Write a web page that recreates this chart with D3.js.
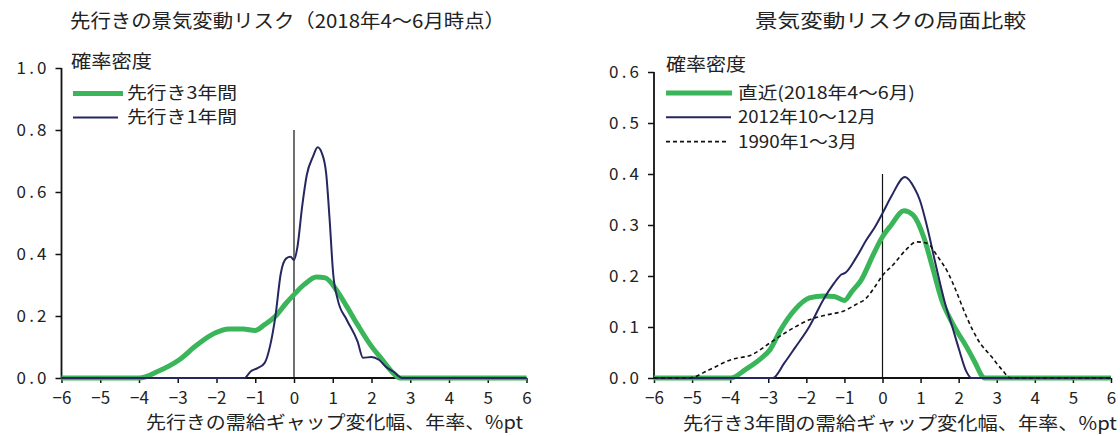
<!DOCTYPE html>
<html><head><meta charset="utf-8">
<script src="https://cdn.jsdelivr.net/npm/d3@7"></script>
<style>
html,body{margin:0;padding:0;background:#fff;}
text{font-family:"Noto Sans CJK JP","Noto Sans",sans-serif;fill:#222;}
</style></head>
<body><svg id="c" width="1120" height="436"></svg>
<script>
// ---- data ----
const xTicks = [-6,-5,-4,-3,-2,-1,0,1,2,3,4,5,6];
const yTicksLeft = [0,0.2,0.4,0.6,0.8,1.0];
const yTicksRight = [0,0.1,0.2,0.3,0.4,0.5,0.6];

// left chart: 先行き3年間
const left3yX = [-6,-4,-3.52,-2.96,-2.5,-2.04,-1.68,-1.31,-1.01,-0.76,-0.48,-0.2,0,0.26,0.58,0.81,1.09,1.36,1.64,2.0,2.28,2.56,2.74,6];
const left3yY = [0,0,0.021,0.059,0.107,0.145,0.158,0.158,0.153,0.172,0.199,0.242,0.269,0.301,0.326,0.323,0.285,0.231,0.172,0.102,0.059,0.016,0,0];
// left chart: 先行き1年間
const left1yX = [-6,-1.28,-1.12,-0.94,-0.76,-0.62,-0.48,-0.34,-0.2,-0.09,0,0.09,0.21,0.33,0.49,0.61,0.72,0.83,0.92,1.01,1.13,1.36,1.64,1.78,2.0,2.19,2.38,2.56,2.79,6];
const left1yY = [0,0,0.021,0.032,0.048,0.102,0.199,0.338,0.386,0.391,0.381,0.424,0.553,0.655,0.714,0.744,0.725,0.66,0.51,0.338,0.252,0.188,0.118,0.065,0.068,0.059,0.035,0.021,0,0];

// right chart: 直近(2018年4～6月)
const recentX = [-6,-3.98,-3.61,-3.23,-2.95,-2.67,-2.3,-1.92,-1.55,-1.27,-1.0,-0.8,-0.56,-0.23,0,0.23,0.56,0.8,1.08,1.31,1.55,1.83,2.2,2.44,2.62,2.67,6];
const recentY = [0,0,0.016,0.036,0.056,0.095,0.134,0.157,0.161,0.16,0.152,0.17,0.192,0.244,0.277,0.30,0.328,0.32,0.277,0.218,0.154,0.108,0.062,0.029,0.003,0,0];
// right chart: 2012年10～12月
const y2012X = [-6,-2.88,-2.58,-2.3,-1.92,-1.55,-1.27,-1.08,-0.98,-0.7,-0.42,-0.19,0,0.23,0.59,0.84,0.98,1.17,1.41,1.64,1.83,2.01,2.2,2.34,6];
const y2012Y = [0,0,0.029,0.059,0.101,0.154,0.186,0.203,0.206,0.235,0.271,0.297,0.323,0.356,0.394,0.372,0.349,0.297,0.218,0.147,0.101,0.056,0.013,0,0];
// right chart: 1990年1～3月
const y1990X = [-6,-5.09,-4.55,-3.98,-3.42,-2.95,-2.48,-1.92,-1.45,-1.03,-0.7,-0.42,-0.19,0,0.28,0.61,0.89,1.17,1.45,1.73,1.92,2.2,2.53,2.86,3.14,3.37,6];
const y1990Y = [0,0,0.016,0.036,0.046,0.069,0.092,0.114,0.124,0.131,0.144,0.157,0.18,0.201,0.222,0.251,0.267,0.264,0.238,0.205,0.173,0.121,0.072,0.042,0.016,0,0];

const GREEN = "#3bb55a", NAVY = "#25275e";

const svg = d3.select("#c");

function fmt(v){ return v.toFixed(1); }

function panel(o){
  const x = d3.scaleLinear().domain([-6,6]).range([o.x0,o.x1]);
  const y = d3.scaleLinear().domain([0,o.ymax]).range([o.yb,o.yt]);
  const g = svg.append("g");
  // y axis
  const ya = g.append("g").attr("transform",`translate(${o.x0},0)`)
    .call(d3.axisLeft(y).tickValues(o.yticks).tickSize(6).tickPadding(o.ypad).tickFormat(fmt));
  ya.select(".domain").attr("stroke","#111").attr("stroke-width",1.8).attr("d",`M0,${o.yb}V${o.yt}`);
  ya.selectAll(".tick line").attr("stroke","#111").attr("stroke-width",1.5);
  ya.selectAll(".tick text").style("font-size","17px").attr("textLength",30).attr("lengthAdjust","spacing").attr("fill","#222");
  // x axis
  const xa = g.append("g").attr("transform",`translate(0,${o.yb})`)
    .call(d3.axisBottom(x).tickValues(xTicks).tickSize(5).tickPadding(9).tickFormat(d=> d<0 ? "−"+Math.abs(d) : String(d)));
  xa.select(".domain").attr("stroke","#111").attr("stroke-width",1.8).attr("d",`M${o.x0},0H${o.x1}`);
  xa.selectAll(".tick line").attr("stroke","#111").attr("stroke-width",1.5);
  xa.selectAll(".tick text").style("font-size","17px").attr("fill","#222");
  // vertical zero line
  g.append("line").attr("x1",x(0)).attr("x2",x(0)).attr("y1",y(o.zeroTop)).attr("y2",y(0))
    .attr("stroke","#111").attr("stroke-width",1.2);
  // series
  o.series.forEach(s=>{
    const pts = s.xs.map((d,i)=>[d,s.ys[i]]);
    g.append("path").datum(pts)
      .attr("fill","none").attr("stroke",s.color).attr("stroke-width",s.w)
      .attr("stroke-dasharray",s.dash||null).attr("stroke-linejoin","round")
      .attr("d",d3.line().x(d=>x(d[0])).y(d=>y(d[1])).curve(d3.curveMonotoneX));
  });
  // legend
  o.series.forEach((s,i)=>{
    const ly = o.legY + i*o.legStep;
    g.append("line").attr("x1",o.legX).attr("x2",o.legX+s.len).attr("y1",ly).attr("y2",ly)
      .attr("stroke",s.color).attr("stroke-width",s.w).attr("stroke-dasharray",s.dash||null);
    g.append("text").attr("x",o.legTextX).attr("y",ly).attr("dy","0.35em")
      .attr("textLength",s.tl).attr("lengthAdjust","spacingAndGlyphs")
      .style("font-size","17px").text(s.name);
  });
  return {x,y,g};
}

panel({x0:61.5,x1:526.5,yb:378,yt:68,ymax:1.0,yticks:yTicksLeft,ypad:9,zeroTop:0.8,
  legX:73,legY:93.5,legStep:24,legTextX:127,
  series:[
    {name:"先行き3年間",xs:left3yX,ys:left3yY,color:GREEN,w:5,len:50,tl:110},
    {name:"先行き1年間",xs:left1yX,ys:left1yY,color:NAVY,w:2,len:45,tl:110}
  ]});

panel({x0:654,x1:1111,yb:378,yt:72,ymax:0.6,yticks:yTicksRight,ypad:9,zeroTop:0.4,
  legX:666,legY:93,legStep:24.3,legTextX:738,
  series:[
    {name:"直近(2018年4～6月)",xs:recentX,ys:recentY,color:GREEN,w:5,len:66,tl:177},
    {name:"2012年10～12月",xs:y2012X,ys:y2012Y,color:NAVY,w:2,len:65,tl:138},
    {name:"1990年1～3月",xs:y1990X,ys:y1990Y,color:"#111",w:1.6,dash:"4,3",len:63,tl:119}
  ]});

// titles & labels
svg.append("text").attr("x",70).attr("y",21).attr("dy","0.35em").attr("textLength",435).attr("lengthAdjust","spacingAndGlyphs")
  .style("font-size","19px").text("先行きの景気変動リスク（2018年4～6月時点）");
svg.append("text").attr("x",755).attr("y",21).attr("dy","0.35em").attr("textLength",271).attr("lengthAdjust","spacingAndGlyphs")
  .style("font-size","19px").text("景気変動リスクの局面比較");
svg.append("text").attr("x",71).attr("y",62).attr("dy","0.35em").attr("textLength",81).attr("lengthAdjust","spacingAndGlyphs")
  .style("font-size","18px").text("確率密度");
svg.append("text").attr("x",666).attr("y",65).attr("dy","0.35em").attr("textLength",80).attr("lengthAdjust","spacingAndGlyphs")
  .style("font-size","18px").text("確率密度");
svg.append("text").attr("x",146).attr("y",423).attr("dy","0.35em").attr("textLength",377).attr("lengthAdjust","spacingAndGlyphs")
  .style("font-size","18px").text("先行きの需給ギャップ変化幅、年率、%pt");
svg.append("text").attr("x",683).attr("y",424).attr("dy","0.35em").attr("textLength",434).attr("lengthAdjust","spacingAndGlyphs")
  .style("font-size","18px").text("先行き3年間の需給ギャップ変化幅、年率、%pt");
</script></body></html>
